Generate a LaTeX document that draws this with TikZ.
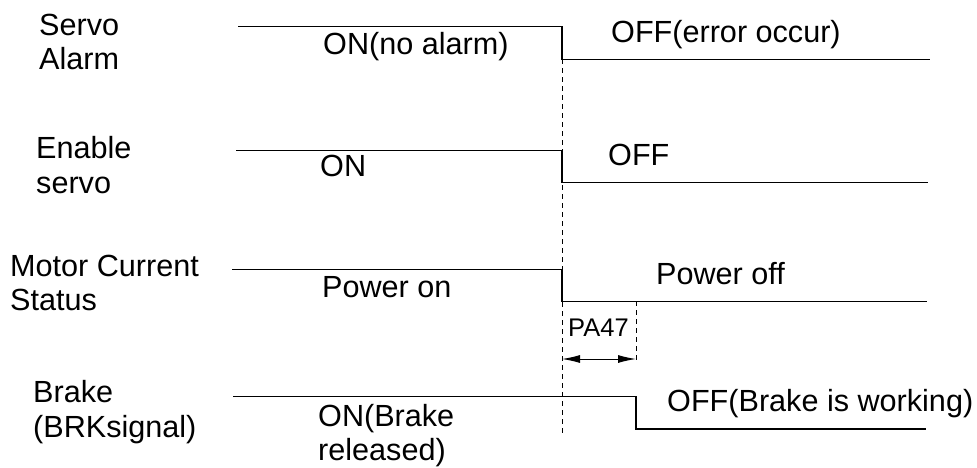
\documentclass[tikz,border=0pt]{standalone}
\usepackage{fontspec}
\setmainfont{Liberation Sans}
\usetikzlibrary{arrows.meta}
\begin{document}
\begin{tikzpicture}[x=1pt,y=-1pt,
  lbl/.style={anchor=base west,inner sep=0pt,align=left,font=\fontsize{30.6}{34.5}\selectfont},
  small/.style={anchor=base west,inner sep=0pt,font=\fontsize{25.5}{28}\selectfont},
  wave/.style={line width=1.3pt,line join=miter},
  guide/.style={line width=0.9pt,dash pattern=on 5pt off 4pt},
  dim/.style={line width=1pt,{Latex[length=18pt,width=8pt]}-{Latex[length=18pt,width=8pt]}}]
\useasboundingbox (0,0) rectangle (977,468);
% left labels (base = baseline of the last line)
\node[lbl] (l1) at (39,70) {Servo\\Alarm};
\node[lbl] (l2) at (36,193) {Enable\\servo};
\node[lbl] (l3) at (10,310.5) {Motor Current\\Status};
\node[lbl] (l4) at (33,437) {Brake\\(BRKsignal)};
% waveform corners
\coordinate (a0) at (238,26.7); \coordinate (a1) at (562,26.7);
\coordinate (a2) at (562,59.3); \coordinate (a3) at (930,59.3);
\coordinate (b0) at (236,150.3); \coordinate (b1) at (562,150.3);
\coordinate (b2) at (562,182.3); \coordinate (b3) at (928,182.3);
\coordinate (c0) at (232,269.3); \coordinate (c1) at (562,269.3);
\coordinate (c2) at (562,301.3); \coordinate (c3) at (927,301.3);
\coordinate (d0) at (233,396.5); \coordinate (d1) at (636,396.5);
\coordinate (d2) at (636,429); \coordinate (d3) at (926,429);
\coordinate (g1) at (562,435); \coordinate (g2) at (636,361);
\draw[wave] (a0) -- (a1) -- (a2) -- (a3);
\draw[wave] (b0) -- (b1) -- (b2) -- (b3);
\draw[wave] (c0) -- (c1) -- (c2) -- (c3);
\draw[wave] (d0) -- (d1) -- (d2) -- (d3);
\draw[guide] (a2) -- (g1);
\draw[guide] (c3 -| d1) -- (g2);
\coordinate (p1) at (562,359); \coordinate (p2) at (636,359);
\draw[dim] (p1) -- (p2);
% state labels
\node[lbl] (t1) at (323,54.3) {ON(no alarm)};
\node[lbl] (t2) at (611,42.7) {OFF(error occur)};
\node[lbl] (t3) at (320,176.7) {ON};
\node[lbl] (t4) at (608,165.7) {OFF};
\node[lbl] (t5) at (322,297.3) {Power on};
\node[lbl] (t6) at (656,284) {Power off};
\node[small] (t7) at (568,336) {PA47};
\node[lbl] (t8) at (318,460.5) {ON(Brake\\released)};
\node[lbl] (t9) at (667,411.7) {OFF(Brake is working)};
\end{tikzpicture}
\end{document}
